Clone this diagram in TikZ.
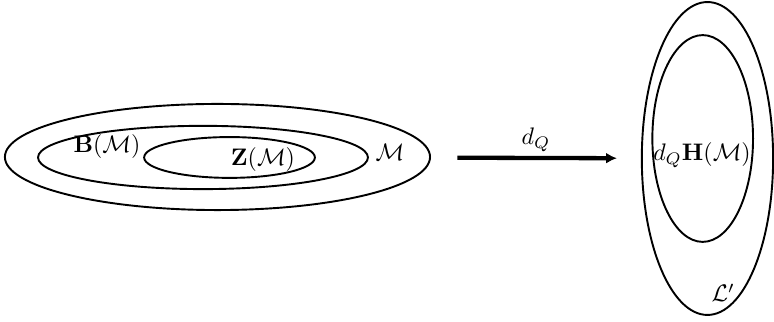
\documentclass[tikz,border=0pt]{standalone}
\usepackage{amsmath, amssymb}
\usetikzlibrary{shapes.geometric, positioning, arrows.meta}

\begin{document}
\begin{tikzpicture}
            \useasboundingbox (0,0) rectangle (11.378,-4.733);
            % Left: nested sets
            \node[draw, thick, ellipse, inner sep=0pt, minimum width=6.25cm, minimum height=1.56cm] (modM) at (3.197,-2.308) {};
            \node[draw, thick, ellipse, inner sep=0pt, minimum width=4.85cm, minimum height=0.93cm] (bdry) at (2.984,-2.315) {};
            \node[draw, thick, ellipse, inner sep=0pt, minimum width=2.51cm, minimum height=0.60cm] (cyc) at (3.374,-2.315) {};
            \node (bdrylab) at (1.573,-2.161) {$\mathbf{B}(\mathcal{M})$};
            \node (cyclab) at (3.866,-2.352) {$\mathbf{Z}(\mathcal{M})$};
            \node (modlab) at (5.733,-2.234) {$\mathcal{M}$};
            
            % Right: image sets
            \node[draw, thick, ellipse, inner sep=0pt, minimum width=1.93cm, minimum height=4.60cm] (modL) at (10.40,-2.33) {};
            \node[draw, thick, ellipse, inner sep=0pt, minimum width=1.48cm, minimum height=3.04cm] (homo) at (10.33,-2.036) {};
            \node (homolab) at (10.32,-2.279) {$d_Q\mathbf{H}(\mathcal{M})$};
            \node (modLlab) at (10.63,-4.307) {$\mathcal{L}'$};
            
            % Map
            \draw[-{Latex[length=4.5pt, width=4.5pt]}, line width=1.8pt, shorten <=11pt, shorten >=10pt] (modM) -- node[above=-1.5pt] (dq) {$d_Q$} (modL);
        \end{tikzpicture}
\end{document}
